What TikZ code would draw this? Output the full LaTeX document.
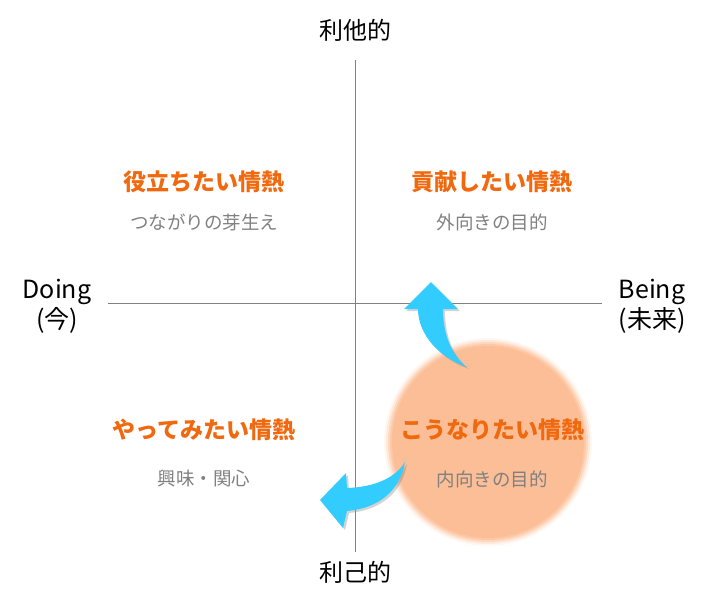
\documentclass[tikz,border=0pt]{standalone}
\usepackage{fontspec}
\setmainfont{Noto Sans CJK JP}
\usepackage{tikz}
\usetikzlibrary{shadows}
\definecolor{passion}{RGB}{240,105,15}
\definecolor{subtext}{RGB}{128,128,128}
\definecolor{axisgray}{RGB}{128,128,128}
\definecolor{peach}{RGB}{252,190,150}
\definecolor{skyblue}{RGB}{51,204,255}

\begin{document}
\begin{tikzpicture}[x=1pt, y=-1pt,
    axis/.style={draw=axisgray, line width=1pt},
    axlabel/.style={font=\fontsize{24}{30}\selectfont, align=center, inner sep=0pt},
    title/.style={text=passion, font=\fontsize{23}{23}\selectfont\bfseries, inner sep=0pt},
    sub/.style={text=subtext, font=\fontsize{18.5}{18.5}\selectfont, inner sep=0pt},
    turn/.style={fill=skyblue, draw=none, drop shadow={opacity=0.35, shadow xshift=2pt, shadow yshift=-2pt}}]
		\useasboundingbox (0,0) rectangle (709,606);

		% axes
		\coordinate (top) at (355,60);
		\coordinate (bottom) at (355,552);
		\coordinate (left) at (108,303);
		\coordinate (right) at (602,303);
		\draw[axis] (top) -- (bottom);
		\draw[axis] (left) -- (right);

		\node[axlabel] (altru) at (355,30) {利他的};
		\node[axlabel] (ego) at (355,572) {利己的};
		\node[axlabel, font=\fontsize{25}{30}\selectfont] (doing) at (57,306) {Doing\\(今)};
		\node[axlabel, font=\fontsize{25}{30}\selectfont] (being) at (652,306) {Being\\(未来)};

		% soft circle
		\foreach \r/\o in {104/0.12, 102/0.25, 100/0.4, 98/0.6, 96/1}
			\fill[peach, opacity=\o] (488,442) circle (\r);

		% curved arrows
		\path[turn] (431,282) -- (458,309) -- (443,309)
			.. controls (443,335) and (452,356) .. (467,367)
			.. controls (440,358) and (418,335) .. (418,309)
			-- (404,309) -- cycle;
		\path[turn] (320,500) -- (346,473) -- (347,488)
			.. controls (375,487) and (395,478) .. (405,462)
			.. controls (400,490) and (380,508) .. (347,511)
			-- (343,528) -- cycle;

		% quadrants
		\node[title] (q1) at (204,182) {役立ちたい情熱};
		\node[sub] (q1s) at (204,222) {つながりの芽生え};
		\node[title] (q2) at (492,182) {貢献したい情熱};
		\node[sub] (q2s) at (492,222) {外向きの目的};
		\node[title] (q3) at (204,430) {やってみたい情熱};
		\node[sub] (q3s) at (204,479) {興味・関心};
		\node[title] (q4) at (492,430) {こうなりたい情熱};
		\node[sub] (q4s) at (492,479) {内向きの目的};

	\end{tikzpicture}
\end{document}
